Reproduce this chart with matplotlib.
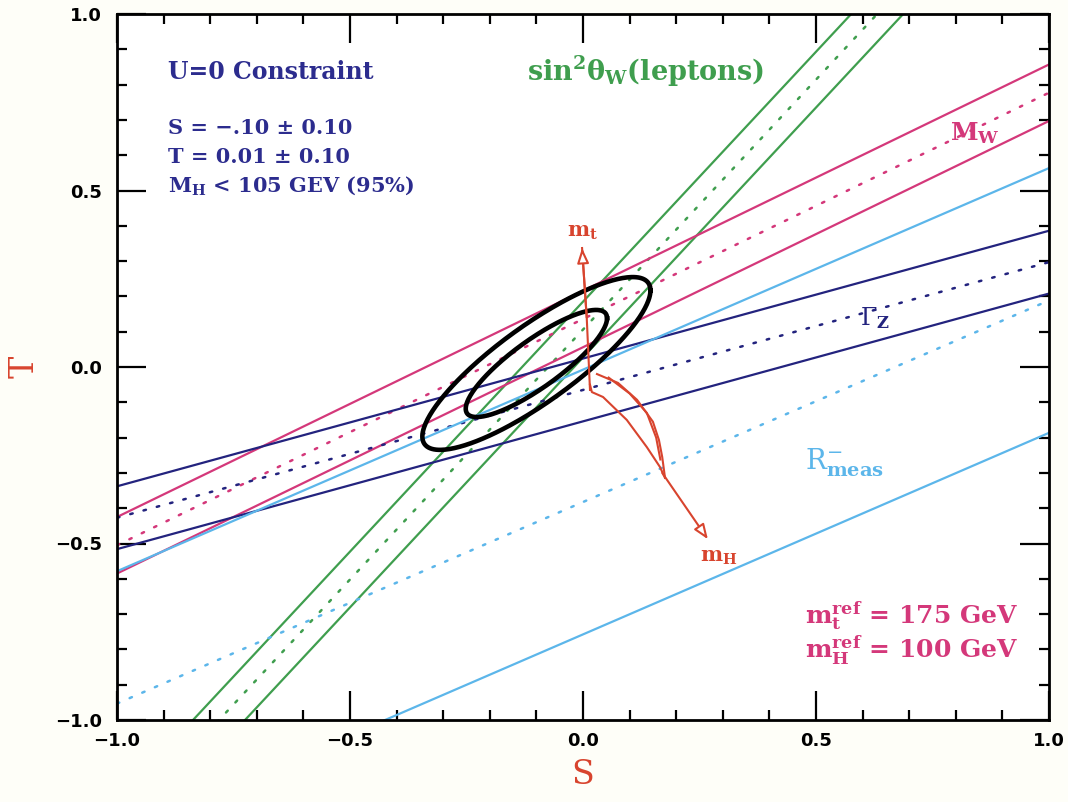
import numpy as np
import matplotlib
matplotlib.use("Agg")
import matplotlib.pyplot as plt

plt.rcParams['mathtext.fontset'] = 'dejavuserif'

# ---------------- data ----------------
S_LIMITS = [-1.0, 1.0]
T_LIMITS = [-1.0, 1.0]

# measurement bands: T = center + slope * S, edges at +/- halfwidth
band_names = ["sin2thetaW_leptons", "M_W", "Gamma_Z", "R_meas"]
band_slopes = [1.416, 0.641, 0.362, 0.571]
band_centers = [0.106, 0.136, -0.065, -0.3825]
band_halfwidths = [0.079, 0.080, 0.089, 0.375]

# fit result (U = 0)
fit_S, fit_S_err = -0.10, 0.10
fit_T, fit_T_err = 0.01, 0.10
fit_rho = 0.845
contour_dchi2 = [2.30, 5.99]

# m_t arrow (S, T)
mt_arrow_S = [0.015, 0.008, -0.002]
mt_arrow_T = [-0.065, 0.14, 0.337]

# m_H band outline and arrow (S, T)
mh_edge1_S = [0.015, 0.019, 0.043, 0.094, 0.137, 0.165, 0.176]
mh_edge1_T = [-0.050, -0.071, -0.085, -0.150, -0.227, -0.283, -0.314]
mh_edge2_S = [0.030, 0.075, 0.116, 0.150, 0.163, 0.170, 0.176]
mh_edge2_T = [-0.020, -0.045, -0.093, -0.155, -0.207, -0.255, -0.314]
mh_inner_S = [0.055, 0.100, 0.137, 0.157, 0.166]
mh_inner_T = [-0.030, -0.075, -0.130, -0.200, -0.262]
mh_arrow_S = [0.170, 0.268]
mh_arrow_T = [-0.300, -0.488]

major_ticks = [-1.0, -0.5, 0.0, 0.5, 1.0]
major_labels = ["\u22121.0", "\u22120.5", "0.0", "0.5", "1.0"]
minor_ticks = [-0.9, -0.8, -0.7, -0.6, -0.4, -0.3, -0.2, -0.1,
               0.1, 0.2, 0.3, 0.4, 0.6, 0.7, 0.8, 0.9]

# ---------------- style ----------------
GREEN = '#3f9e4e'
MAGENTA = '#d4387a'
NAVY = '#23237e'
LBLUE = '#5cb6ea'
RED = '#d8442e'
TXTNAVY = '#2c2c8e'
band_colors = [GREEN, MAGENTA, NAVY, LBLUE]
DOT = (0, (1, 4.5))

fig = plt.figure(figsize=(10.68, 8.02), dpi=100, facecolor='#fefef8')
ax = fig.add_axes([117/1068, 1-720/802, (1049-117)/1068, (720-14)/802])
ax.set_facecolor('white')
ax.set_xlim(*S_LIMITS)
ax.set_ylim(*T_LIMITS)

S = np.array(S_LIMITS)
for slope, c, hw, col in zip(band_slopes, band_centers, band_halfwidths, band_colors):
    ax.plot(S, c + slope * S, color=col, lw=1.8, ls=DOT,
            dash_capstyle='round')
    ax.plot(S, c + hw + slope * S, color=col, lw=1.6)
    ax.plot(S, c - hw + slope * S, color=col, lw=1.6)

# ellipses
cov = np.array([[fit_S_err**2, fit_rho*fit_S_err*fit_T_err],
                [fit_rho*fit_S_err*fit_T_err, fit_T_err**2]])
L = np.linalg.cholesky(cov)
th = np.linspace(0, 2*np.pi, 300)
circ = np.vstack([np.cos(th), np.sin(th)])
for k in contour_dchi2:
    pts = L @ circ * np.sqrt(k)
    ax.plot(fit_S + pts[0], fit_T + pts[1], color='black', lw=3.3)

# m_t arrow
ax.plot(mt_arrow_S, mt_arrow_T, color=RED, lw=1.5)
ax.annotate('', xy=(mt_arrow_S[-1], mt_arrow_T[-1]),
            xytext=(mt_arrow_S[-2], mt_arrow_T[-2]),
            arrowprops=dict(arrowstyle='-|>,head_length=0.9,head_width=0.35',
                            fc='white', ec=RED, lw=1.5, shrinkA=0, shrinkB=0))

# m_H band
ax.plot(mh_edge1_S, mh_edge1_T, color=RED, lw=1.5)
ax.plot(mh_edge2_S, mh_edge2_T, color=RED, lw=1.5)
ax.plot(mh_inner_S, mh_inner_T, color=RED, lw=1.5)
ax.annotate('', xy=(mh_arrow_S[1], mh_arrow_T[1]),
            xytext=(mh_arrow_S[0], mh_arrow_T[0]),
            arrowprops=dict(arrowstyle='-|>,head_length=0.9,head_width=0.35',
                            fc='white', ec=RED, lw=1.5, shrinkA=0, shrinkB=0))

# ticks
ax.set_xticks(major_ticks)
ax.set_xticklabels(major_labels)
ax.set_yticks(major_ticks)
ax.set_yticklabels(major_labels)
ax.set_xticks(minor_ticks, minor=True)
ax.set_yticks(minor_ticks, minor=True)
ax.tick_params(which='both', direction='in', top=True, right=True, width=1.6,
               color='black')
ax.tick_params(which='major', length=21)
ax.tick_params(which='minor', length=7.5)
ax.tick_params(axis='x', which='major', pad=9)
ax.tick_params(axis='y', which='major', pad=11)
for lab in ax.get_xticklabels() + ax.get_yticklabels():
    lab.set_fontweight('bold')
    lab.set_fontsize(13)
    lab.set_fontfamily('DejaVu Sans')
for sp in ax.spines.values():
    sp.set_linewidth(2.0)

ax.set_xlabel('S', color=RED, fontsize=24, family='DejaVu Serif', labelpad=6)
ax.set_ylabel('T', color=RED, fontsize=24, family='DejaVu Serif', labelpad=10)

tk = dict(fontweight='bold', family='DejaVu Serif', va='center', ha='left')
ax.text(-0.891, 0.836, 'U=0 Constraint', color=TXTNAVY, fontsize=17, **tk)
ax.text(-0.891, 0.677, 'S = \u2212.10 \u00b1 0.10', color=TXTNAVY, fontsize=15, **tk)
ax.text(-0.891, 0.595, 'T = 0.01 \u00b1 0.10', color=TXTNAVY, fontsize=15, **tk)
ax.text(-0.891, 0.513, r'M$_\mathbf{H}$ < 105 GEV (95%)', color=TXTNAVY, fontsize=15, **tk)
ax.text(-0.120, 0.836, 'sin$^\\mathbf{2}$\u03b8$_\\mathbf{W}$(leptons)',
        color=GREEN, fontsize=19.5, **tk)
ax.text(0.788, 0.663, r'M$_\mathbf{W}$', color=MAGENTA, fontsize=18, **tk)
ax.text(0.594, 0.139, r'$\Gamma_\mathbf{Z}$', color=NAVY, fontsize=17, **tk)
ax.text(0.476, -0.27, r'R$^{-}_{\mathbf{meas}}$', color=LBLUE, fontsize=20,
        family='DejaVu Serif', va='center', ha='left')
ax.text(0.476, -0.703, r'm$_\mathbf{t}^\mathbf{ref}$ = 175 GeV', color=MAGENTA, fontsize=18, **tk)
ax.text(0.476, -0.802, r'm$_\mathbf{H}^\mathbf{ref}$ = 100 GeV', color=MAGENTA, fontsize=18, **tk)
ax.text(-0.034, 0.382, r'm$_\mathbf{t}$', color=RED, fontsize=15, **tk)
ax.text(0.251, -0.538, r'm$_\mathbf{H}$', color=RED, fontsize=15, **tk)

fig.savefig('out.png', dpi=100, facecolor=fig.get_facecolor())
